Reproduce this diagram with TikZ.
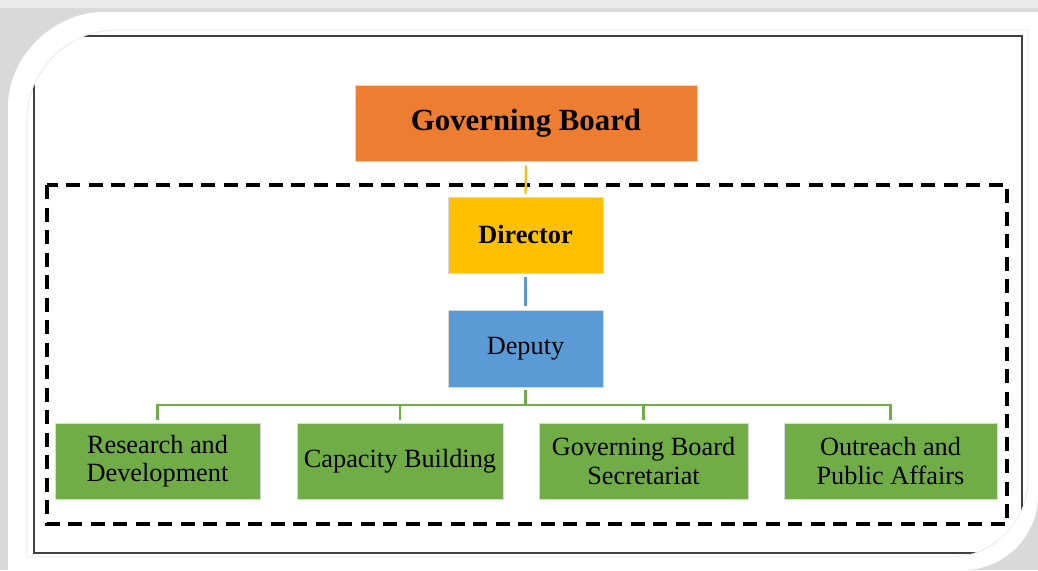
\documentclass[tikz,border=0pt]{standalone}
\usepackage{fontspec}
\setmainfont{Liberation Serif}
\definecolor{gbor}{HTML}{ED7D31}
\definecolor{diry}{HTML}{FFC000}
\definecolor{depb}{HTML}{5B9BD5}
\definecolor{grn}{HTML}{70AD47}
\begin{document}
\begin{tikzpicture}[x=1pt,y=-1pt,
  box/.style={draw=white!85!black,line width=0.6pt,inner sep=0pt,align=center,text=black},
  unitbox/.style={box,fill=grn,minimum height=76pt,font=\fontsize{26.3}{28.5}\selectfont},
  gline/.style={draw=grn,line width=2.3pt},
  ]
\useasboundingbox (0,0) rectangle (1038,570);
% shadow background
\fill[black!15] (0,0) rectangle (1038,570);
\fill[black!8] (0,0) rectangle (1038,8);
% white frame
\fill[white] (8,575) -- (8,107) .. controls (8,54.5) and (55.5,12) .. (103,12)
  -- (1045,12) -- (1045,495) -- (1038,495) .. controls (1038,536.4) and (1004.4,570) .. (963,570)
  -- (963,575) -- cycle;
% inner frame (clip) and black rectangle
\begin{scope}
\clip (27,557) -- (27,120) .. controls (27,70.3) and (67.3,30) .. (117,30)
  -- (1028,30) -- (1028,479) .. controls (1028,522.1) and (993.1,557) .. (950,557) -- cycle;
\draw[black!75,line width=1.6pt] (34,36) rectangle (1022,553);
\end{scope}
\draw[black!10,line width=0.6pt] (27,557) -- (27,120) .. controls (27,70.3) and (67.3,30) .. (117,30)
  -- (1028,30) -- (1028,479) .. controls (1028,522.1) and (993.1,557) .. (950,557) -- cycle;
% dashed group
\draw[black,line width=4.2pt,dash pattern=on 14pt off 8.5pt] (47,185) rectangle (1007,524);
% nodes
\node[box,fill=gbor,minimum width=342pt,minimum height=76pt,font=\fontsize{30.8}{34}\selectfont\bfseries] (gb) at (526,123) {Governing Board};
\node[box,fill=diry,minimum width=155pt,minimum height=76pt,font=\fontsize{26.3}{28}\selectfont\bfseries] (dir) at (525.5,235) {Director};
\node[box,fill=depb,minimum width=155pt,minimum height=77pt,font=\fontsize{26.3}{28}\selectfont] (dep) at (525.5,348.5) {Deputy};
\node[unitbox,minimum width=205pt] (rd) at (157.5,461) {Research and\\Development};
\node[unitbox,minimum width=206pt] (cb) at (400,461) {Capacity Building};
\node[unitbox,minimum width=209pt] (gbs) at (643.5,461) {Governing Board\\Secretariat};
\node[unitbox,minimum width=213pt] (opa) at (890.5,461) {Outreach and\\Public Affairs};
\coordinate (bus) at (525.5,405);
% connectors
\draw[diry,line width=2.3pt,shorten <=4pt,shorten >=3pt] (gb.south) -- (dir.north);
\draw[depb,line width=2.3pt,shorten <=4pt,shorten >=4pt] (dir.south) -- (dep.north);
\draw[gline,shorten <=3pt] (dep.south) -- (bus);
\draw[gline,line cap=rect] (rd.north |- bus) -- (opa.north |- bus);
\foreach \n in {rd,cb,gbs,opa}
  \draw[gline,shorten >=3pt] (\n.north |- bus) -- (\n.north);
\end{tikzpicture}
\end{document}
